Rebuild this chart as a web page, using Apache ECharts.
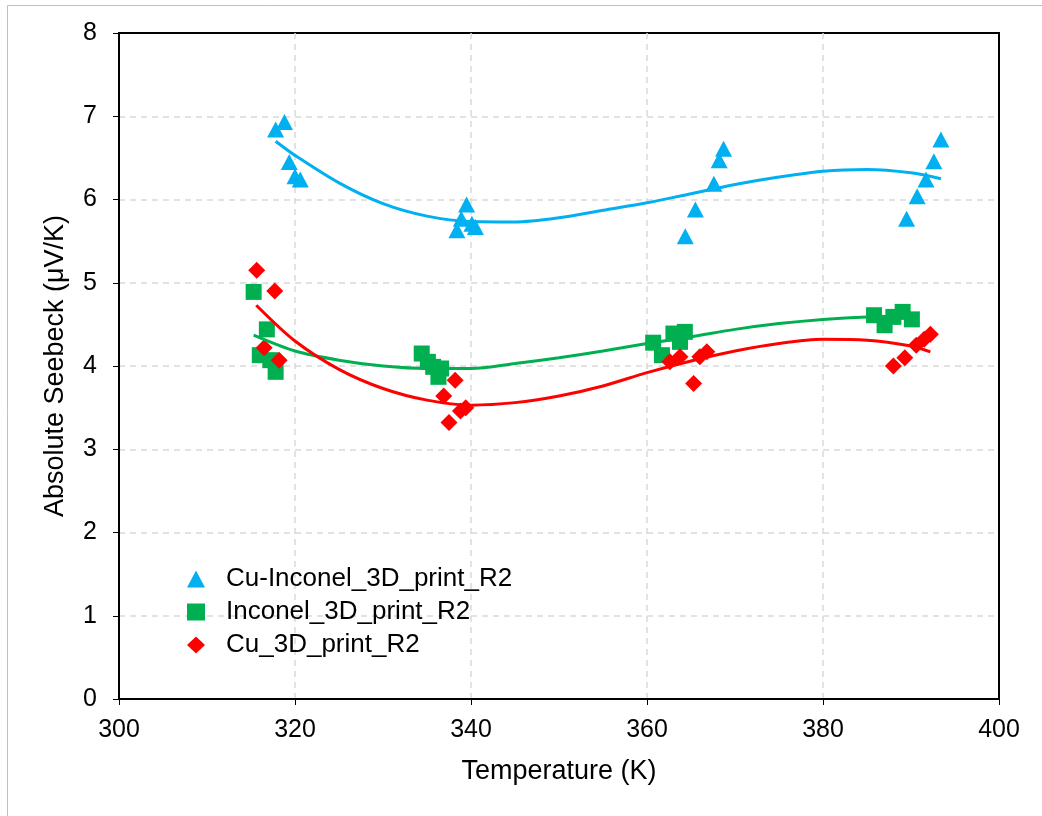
<!DOCTYPE html>
<html>
<head>
<meta charset="utf-8">
<script src="https://cdn.jsdelivr.net/npm/echarts@6/dist/echarts.min.js"></script>
<style>
  html, body { margin: 0; padding: 0; background: #fff; }
  #chart { width: 1042px; height: 816px; }
</style>
</head>
<body>
<div id="chart"></div>
<script>
var cuInconelX = [317.8, 318.8, 319.35, 320.0, 320.6, 338.4, 338.9, 339.5, 340.1, 340.5,
                  364.35, 365.5, 367.6, 368.2, 368.7, 389.5, 390.7, 391.7, 392.6, 393.4];
var cuInconelY = [6.84, 6.93, 6.45, 6.28, 6.24, 5.63, 5.77, 5.94, 5.71, 5.67,
                  5.56, 5.88, 6.19, 6.47, 6.61, 5.77, 6.04, 6.24, 6.46, 6.72];

var inconelX = [315.3, 316.8, 316.0, 317.2, 317.8, 334.4, 335.1, 335.7, 336.6, 336.3,
                360.7, 361.7, 363.0, 364.3, 363.75, 385.8, 387.0, 388.0, 389.05, 390.1];
var inconelY = [4.89, 4.44, 4.13, 4.07, 3.93, 4.15, 4.05, 3.99, 3.97, 3.87,
                4.28, 4.13, 4.39, 4.41, 4.29, 4.61, 4.49, 4.59, 4.65, 4.56];

var cuX = [315.65, 317.7, 316.5, 318.2, 336.9, 338.2, 338.8, 339.4, 337.5,
           362.6, 363.75, 365.3, 366.0, 366.8, 388.0, 389.3, 390.6, 391.5, 392.2];
var cuY = [5.15, 4.90, 4.22, 4.07, 3.64, 3.83, 3.46, 3.50, 3.32,
           4.05, 4.11, 3.79, 4.11, 4.17, 4.00, 4.10, 4.25, 4.32, 4.38];

// polynomial trendlines
var cuInconelFitX = [317.8, 320, 325, 330, 335, 340, 345, 350, 355, 360, 365, 370, 375, 380, 385, 390, 393.4];
var cuInconelFitY = [6.70, 6.53, 6.20, 5.95, 5.80, 5.735, 5.73, 5.78, 5.87, 5.96, 6.07, 6.18, 6.27, 6.34, 6.36, 6.32, 6.25];

var inconelFitX = [315.3, 320, 325, 330, 335, 340, 345, 350, 355, 360, 365, 370, 375, 380, 385, 390.1];
var inconelFitY = [4.37, 4.18, 4.07, 4.00, 3.97, 3.97, 4.03, 4.10, 4.18, 4.27, 4.35, 4.44, 4.51, 4.56, 4.59, 4.60];

var cuFitX = [315.6, 320, 325, 330, 335, 340, 345, 350, 355, 360, 365, 370, 375, 380, 385, 390, 392.2];
var cuFitY = [4.73, 4.30, 3.96, 3.73, 3.59, 3.53, 3.56, 3.64, 3.76, 3.92, 4.06, 4.18, 4.27, 4.32, 4.31, 4.24, 4.17];

var names = ['Cu-Inconel_3D_print_R2', 'Inconel_3D_print_R2', 'Cu_3D_print_R2'];
var colors = ['#00B0F0', '#00B050', '#FF0000'];

function pairs(xs, ys) {
  return xs.map(function(x, i) { return [x, ys[i]]; });
}

var chart = echarts.init(document.getElementById('chart'));
var font = 'Liberation Sans, Arial, sans-serif';

function fitLine(xs, ys, color) {
  return {
    type: 'line',
    data: pairs(xs, ys),
    smooth: 0.3,
    showSymbol: false,
    silent: true,
    z: 3,
    lineStyle: { color: color, width: 3 }
  };
}

function axisCommon() {
  return {
    nameLocation: 'middle',
    nameTextStyle: { fontSize: 27, color: '#000' },
    axisLine: { show: true, lineStyle: { color: '#000', width: 2 } },
    axisTick: { show: true, inside: false, length: 6, lineStyle: { color: '#000', width: 1 } },
    splitLine: {
      show: true, showMinLine: false, showMaxLine: false,
      lineStyle: { color: '#D9D9D9', type: [6, 5], width: 1.5 }
    }
  };
}

var xAxis = axisCommon();
xAxis.type = 'value';
xAxis.min = 300; xAxis.max = 400; xAxis.interval = 20;
xAxis.name = 'Temperature (K)';
xAxis.nameGap = 59;
xAxis.axisLabel = { fontSize: 25, color: '#000', margin: 19 };

var yAxis = axisCommon();
yAxis.type = 'value';
yAxis.min = 0; yAxis.max = 8; yAxis.interval = 1;
yAxis.name = 'Absolute Seebeck (μV/K)';
yAxis.nameGap = 50;
yAxis.axisLabel = { fontSize: 25, color: '#000', margin: 22 };

chart.setOption({
  animation: false,
  textStyle: { fontFamily: font },
  graphic: [{
    type: 'rect',
    shape: { x: 7.5, y: 5.5, width: 1100, height: 900 },
    style: { fill: 'none', stroke: '#BFBFBF', lineWidth: 1 },
    silent: true
  }],
  grid: {
    left: 119, right: 43, top: 33, bottom: 117,
    show: true, borderColor: '#000', borderWidth: 2
  },
  legend: {
    data: names,
    orient: 'vertical',
    left: 182, top: 561,
    itemWidth: 18, itemHeight: 17, itemGap: 7,
    textStyle: { fontSize: 26, color: '#000', fontFamily: font, padding: [0, 0, 0, 16] }
  },
  xAxis: xAxis,
  yAxis: yAxis,
  series: [
    {
      name: names[0], type: 'scatter', symbol: 'triangle', symbolSize: [17, 16],
      itemStyle: { color: colors[0], opacity: 1 }, data: pairs(cuInconelX, cuInconelY)
    },
    {
      name: names[1], type: 'scatter', symbol: 'rect', symbolSize: 16,
      itemStyle: { color: colors[1], opacity: 1 }, data: pairs(inconelX, inconelY)
    },
    {
      name: names[2], type: 'scatter', symbol: 'diamond', symbolSize: 17,
      itemStyle: { color: colors[2], opacity: 1 }, data: pairs(cuX, cuY)
    },
    fitLine(cuInconelFitX, cuInconelFitY, colors[0]),
    fitLine(inconelFitX, inconelFitY, colors[1]),
    fitLine(cuFitX, cuFitY, colors[2])
  ]
});
</script>
</body>
</html>
